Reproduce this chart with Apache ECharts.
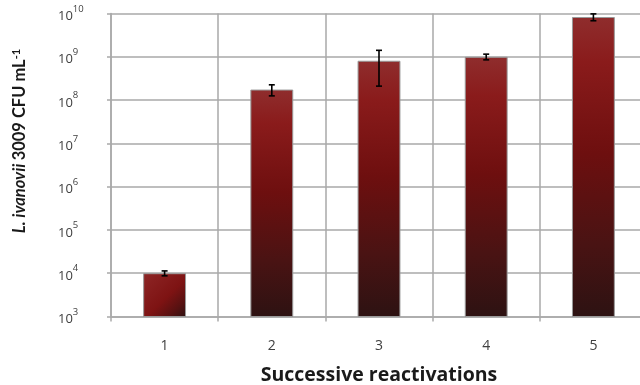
<!DOCTYPE html>
<html>
<head>
<meta charset="utf-8">
<script src="https://cdn.jsdelivr.net/npm/echarts@6/dist/echarts.min.js"></script>
<style>
  html, body { margin: 0; padding: 0; background: #fff; }
  #chart { width: 640px; height: 385px; }
</style>
</head>
<body>
<div id="chart"></div>
<script>
// Viable counts after each successive reactivation (CFU per mL), with standard deviations
const categories = ['1', '2', '3', '4', '5'];
const cfuMeans = [1.0e4, 1.75e8, 8.1e8, 1.0e9, 8.3e9];
const cfuErrors = [0.13e4, 0.5e8, 6.0e8, 0.15e9, 1.5e9];
const yMin = 1e3;
const yMax = 1e10;

const FONT = 'Open Sans';
const TITLE_FONT = 'Lato';
const gridColor = '#a9a9a9';

// Shaded fill: tall columns fade top-to-bottom, the short first column diagonally
const tallFill = {
  type: 'linear', x: 0, y: 0, x2: 0, y2: 1,
  colorStops: [
    { offset: 0, color: '#8f2d2d' },
    { offset: 0.15, color: '#8a1b1b' },
    { offset: 0.45, color: '#6e0f0f' },
    { offset: 0.75, color: '#4a1313' },
    { offset: 1, color: '#2d1212' }
  ]
};
const shortFill = {
  type: 'linear', x: 0, y: 0, x2: 1, y2: 1,
  colorStops: [
    { offset: 0, color: '#8e2626' },
    { offset: 0.55, color: '#7e1313' },
    { offset: 0.8, color: '#571111' },
    { offset: 1, color: '#2d1111' }
  ]
};

const barData = cfuMeans.map((v) => ({
  value: v,
  itemStyle: { color: v < 1e6 ? shortFill : tallFill }
}));
const errData = cfuMeans.map((v, i) => [i, v, cfuErrors[i]]);

const chart = echarts.init(document.getElementById('chart'), null, { renderer: 'canvas' });

chart.setOption({
  animation: false,
  backgroundColor: '#ffffff',
  textStyle: { fontFamily: FONT },
  grid: { left: 111, top: 13.5, width: 536, height: 303, outerBoundsMode: 'none', containLabel: false },
  xAxis: {
    type: 'category',
    data: categories,
    boundaryGap: true,
    axisLine: { show: true, lineStyle: { color: gridColor, width: 1.5 } },
    axisTick: { show: true, length: 5, lineStyle: { color: gridColor, width: 1.5 } },
    splitLine: { show: true, lineStyle: { color: gridColor, width: 1.5 } },
    axisLabel: { color: '#404040', fontSize: 14, fontFamily: FONT, margin: 23 },
    name: 'Successive reactivations',
    nameLocation: 'middle',
    nameGap: 49,
    nameTextStyle: { color: '#1a1a1a', fontSize: 19.5, fontWeight: 'bold', fontFamily: FONT }
  },
  yAxis: {
    type: 'log',
    logBase: 10,
    min: yMin,
    max: yMax,
    interval: 1,
    axisLine: { show: true, lineStyle: { color: gridColor, width: 1.5 } },
    axisTick: { show: true, length: 4, lineStyle: { color: gridColor, width: 1.5 } },
    splitLine: { show: true, lineStyle: { color: gridColor, width: 1.5 } },
    axisLabel: {
      align: 'left',
      margin: 53,
      formatter: function (v) {
        const e = Math.round(Math.log10(v));
        return '{b|10}{s|' + e + '}';
      },
      rich: {
        b: { fontSize: 13, color: '#404040', fontFamily: FONT, verticalAlign: 'bottom', padding: [6, 0, 0, 0] },
        s: { fontSize: 9.5, color: '#404040', fontFamily: FONT, verticalAlign: 'top' }
      }
    }
  },
  graphic: [{
    type: 'text',
    x: 20,
    y: 141,
    rotation: Math.PI / 2,
    style: {
      text: '{i|L. ivanovii} {n|3009 CFU mL}{s|-1}',
      align: 'center',
      verticalAlign: 'middle',
      rich: {
        i: { fontSize: 16.5, fontWeight: 'bold', fontStyle: 'italic', fill: '#1a1a1a', fontFamily: TITLE_FONT },
        n: { fontSize: 16.5, fontWeight: 'bold', fill: '#1a1a1a', fontFamily: TITLE_FONT },
        s: { fontSize: 11, fontWeight: 'bold', fill: '#1a1a1a', fontFamily: TITLE_FONT, verticalAlign: 'top', padding: [0, 0, 8, 0] }
      }
    }
  }],
  series: [
    {
      type: 'bar',
      data: barData,
      barWidth: '40%',
      clip: true,
      itemStyle: { borderColor: '#999999', borderWidth: 1 },
      z: 2
    },
    {
      type: 'custom',
      data: errData,
      z: 3,
      renderItem: function (params, api) {
        const i = api.value(0);
        const m = api.value(1);
        const e = api.value(2);
        const hi = api.coord([i, m + e]);
        const lo = api.coord([i, m - e]);
        const cap = 3;
        const st = { stroke: '#000000', lineWidth: 1.6 };
        return {
          type: 'group',
          children: [
            { type: 'line', shape: { x1: hi[0], y1: hi[1], x2: lo[0], y2: lo[1] }, style: st },
            { type: 'line', shape: { x1: hi[0] - cap, y1: hi[1], x2: hi[0] + cap, y2: hi[1] }, style: st },
            { type: 'line', shape: { x1: lo[0] - cap, y1: lo[1], x2: lo[0] + cap, y2: lo[1] }, style: st }
          ]
        };
      }
    }
  ]
});
</script>
</body>
</html>
